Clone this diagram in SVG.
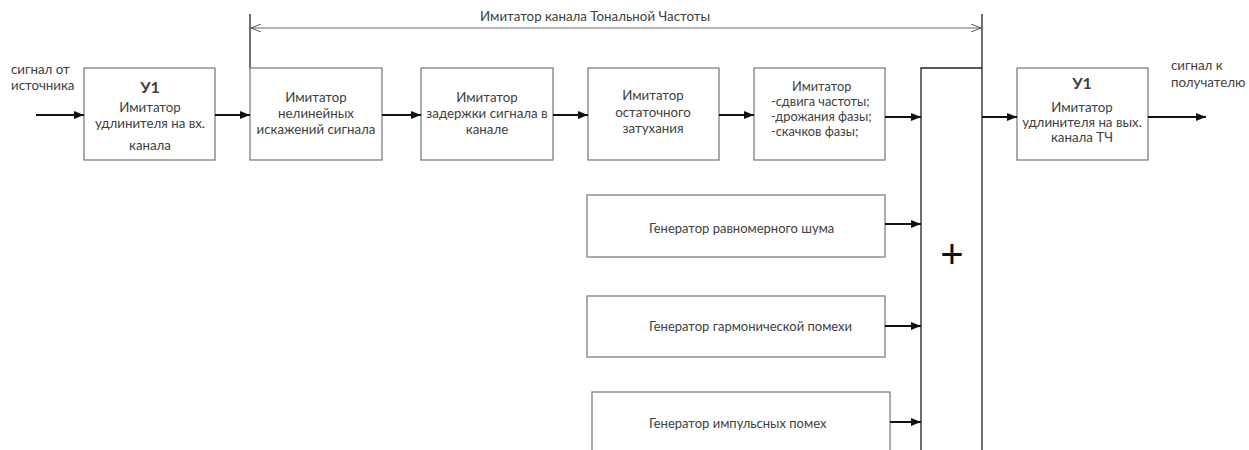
<svg xmlns="http://www.w3.org/2000/svg" width="1249" height="450" viewBox="0 0 1249 450">
  <style>
    .box { fill: #fff; stroke: #7f7f7f; stroke-width: 1.3; }
    .t { font-family: Lato, "Liberation Sans", sans-serif; font-size: 13.3px; fill: #404040; text-anchor: middle; }
    .tl { font-family: Lato, "Liberation Sans", sans-serif; font-size: 13.3px; fill: #404040; }
    .tf { font-family: Lato, "Liberation Sans", sans-serif; font-size: 12.8px; fill: #404040; }
    .ts { font-family: Lato, "Liberation Sans", sans-serif; font-size: 13px; fill: #404040; }
    .big { font-size: 16px; font-weight: bold; }
    .wire { stroke: #111; stroke-width: 2; fill: none; marker-end: url(#ah); }
    .bus { stroke: #222; stroke-width: 1.3; fill: none; }
    .dim { stroke: #6a6a6a; stroke-width: 1; fill: none; }
  </style>
  <defs>
    <marker id="ah" viewBox="0 0 10 8" refX="10" refY="4" markerWidth="10" markerHeight="8" markerUnits="userSpaceOnUse" orient="auto">
      <path d="M0,0 L10,4 L0,8 Z" fill="#111"/>
    </marker>
    <marker id="oa" viewBox="0 0 10 8" refX="10" refY="4" markerWidth="10" markerHeight="8" markerUnits="userSpaceOnUse" orient="auto-start-reverse">
      <path d="M0,0 L10,4 L0,8" fill="none" stroke="#555" stroke-width="1"/>
    </marker>
  </defs>

  <!-- channel span dimension -->
  <g id="span">
    <line class="bus" x1="250" y1="14" x2="250" y2="68"/>
    <line class="dim" x1="251" y1="28" x2="981" y2="28" marker-start="url(#oa)" marker-end="url(#oa)"/>
    <text class="t" x="595" y="21" font-size="12.7">Имитатор канала Тональной Частоты</text>
  </g>

  <g id="in-label">
    <text class="tl" x="11" y="74">сигнал от</text>
    <text class="tl" x="11" y="90">источника</text>
  </g>

  <g id="u1-in">
    <rect class="box" x="84" y="68" width="131" height="92"/>
    <text class="t big" x="150" y="93">У1</text>
    <text class="t" x="150" y="112">Имитатор</text>
    <text class="t" x="150" y="128">удлинителя на вх.</text>
    <text class="t" x="150" y="150">канала</text>
  </g>

  <g id="nonlinear">
    <rect class="box" x="250" y="68" width="132" height="92"/>
    <text class="t" x="316" y="102">Имитатор</text>
    <text class="t" x="316" y="118">нелинейных</text>
    <text class="t" x="316" y="134">искажений сигнала</text>
  </g>

  <g id="delay">
    <rect class="box" x="421" y="68" width="132" height="92"/>
    <text class="t" x="487" y="102">Имитатор</text>
    <text class="t" x="487" y="118">задержки сигнала в</text>
    <text class="t" x="487" y="134">канале</text>
  </g>

  <g id="attenuation">
    <rect class="box" x="588" y="68" width="131" height="92"/>
    <text class="t" x="653" y="100">Имитатор</text>
    <text class="t" x="653" y="117">остаточного</text>
    <text class="t" x="653" y="133">затухания</text>
  </g>

  <g id="freq-phase">
    <rect class="box" x="754" y="68" width="131" height="92"/>
    <text class="tf" x="792" y="91">Имитатор</text>
    <text class="tf" x="771" y="106">-сдвига частоты;</text>
    <text class="tf" x="771" y="121">-дрожания фазы;</text>
    <text class="tf" x="771" y="136">-скачков фазы;</text>
  </g>

  <g id="noise">
    <rect class="box" x="587" y="195" width="298" height="62"/>
    <text class="ts" x="649" y="233">Генератор равномерного шума</text>
  </g>

  <g id="harmonic">
    <rect class="box" x="587" y="296" width="298" height="61"/>
    <text class="ts" x="649" y="331">Генератор гармонической помехи</text>
  </g>

  <g id="impulse">
    <rect class="box" x="592" y="392" width="298" height="70"/>
    <text class="ts" x="649" y="428">Генератор импульсных помех</text>
  </g>

  <g id="adder">
    <path class="bus" d="M921,455 L921,68 L982,68"/>
    <line class="bus" x1="982" y1="14" x2="982" y2="455"/>
    <text x="952" y="268" font-family="'Liberation Sans', sans-serif" font-size="40" fill="#111" text-anchor="middle">+</text>
  </g>

  <g id="u1-out">
    <rect class="box" x="1017" y="68" width="131" height="92"/>
    <text class="t big" x="1082" y="89">У1</text>
    <text class="t" x="1082" y="112">Имитатор</text>
    <text class="t" x="1082" y="127">удлинителя на вых.</text>
    <text class="t" x="1082" y="142">канала ТЧ</text>
  </g>

  <g id="out-label">
    <text class="tl" x="1171" y="70">сигнал к</text>
    <text class="tl" x="1171" y="87">получателю</text>
  </g>

  <g id="connectors">
    <line class="wire" x1="36" y1="115" x2="84" y2="115"/>
    <line class="wire" x1="215" y1="115" x2="250" y2="115"/>
    <line class="wire" x1="382" y1="115" x2="421" y2="115"/>
    <line class="wire" x1="553" y1="115" x2="588" y2="115"/>
    <line class="wire" x1="719" y1="115" x2="754" y2="115"/>
    <line class="wire" x1="885" y1="117" x2="921" y2="117"/>
    <line class="wire" x1="982" y1="117" x2="1017" y2="117"/>
    <line class="wire" x1="1148" y1="117" x2="1206" y2="117"/>
    <line class="wire" x1="885" y1="224" x2="921" y2="224"/>
    <line class="wire" x1="885" y1="326" x2="921" y2="326"/>
    <line class="wire" x1="890" y1="422" x2="921" y2="422"/>
  </g>
</svg>
